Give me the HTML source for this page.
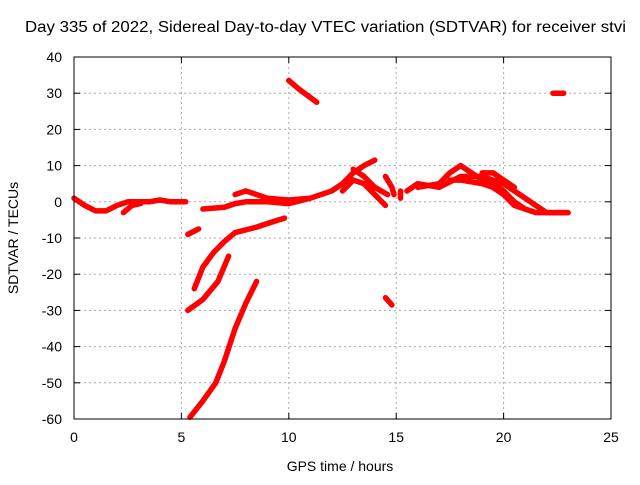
<!DOCTYPE html>
<html><head><meta charset="utf-8"><style>
body{margin:0;background:#fff;}
svg text{font-family:"Liberation Sans",sans-serif;font-size:14px;fill:#000;}
</style></head><body>
<svg id="chart" width="640" height="480" xmlns="http://www.w3.org/2000/svg">
<text x="25" y="32" textLength="601" lengthAdjust="spacingAndGlyphs" style="font-size:15.5px">Day 335 of 2022, Sidereal Day-to-day VTEC variation (SDTVAR) for receiver stvi</text>
<text x="340" y="471" text-anchor="middle">GPS time / hours</text>
<text transform="translate(18,238) rotate(-90)" text-anchor="middle">SDTVAR / TECUs</text>
<g id="grid"></g><g id="series"></g>
<rect x="74" y="57" width="537" height="362" fill="none" stroke="#000"/>
</svg>
<script>
const xTicks=[0,5,10,15,20,25];
const yTicks=[40,30,20,10,0,-10,-20,-30,-40,-50,-60];
const s1=[[0,1],[0.5,-1],[1,-2.5],[1.5,-2.5],[2,-1],[2.5,0],[3,0],[3.5,0],[4,0.5],[4.5,0],[5.2,0]];
const s2=[[2.3,-3],[2.7,-1],[3.1,-0.5]];
const s3=[[5.3,-9],[5.8,-7.5]];
const s4=[[5.3,-30],[6,-27],[6.7,-22],[7.2,-15]];
const s5=[[5.6,-24],[6,-18],[6.5,-14],[7,-11],[7.5,-8.5],[8.5,-7],[9,-6],[9.8,-4.5]];
const s6=[[5.4,-59.5],[6,-55],[6.6,-50],[7,-44],[7.5,-35],[8,-28],[8.5,-22]];
const s7=[[6,-2],[7,-1.5],[7.5,-0.5],[8,0],[9,0],[10,-0.5],[11,1]];
const s8=[[7.5,2],[8,3],[8.5,2],[9,1],[10,0.5],[11,1],[11.5,2],[12,3],[12.5,5],[13,8],[13.5,10],[14,11.5]];
const s9=[[10,33.5],[10.5,31],[11.3,27.5]];
const s10=[[12.5,3],[13,6],[13.5,5],[14,2],[14.5,-1]];
const s11=[[13,9],[13.5,7],[14,4],[14.6,2]];
const s12=[[14.5,-26.5],[14.8,-28.5]];
const s13=[[14.5,7],[14.8,4],[14.9,2]];
const s14=[[15.2,1],[15.2,3]];
const s15=[[15.5,3],[16,5],[17,4],[18,7],[19,7],[20,5],[21,1],[21.5,-1],[22,-3],[23,-3]];
const s16=[[16,4],[17,5],[17.5,8],[18,10],[18.5,8],[19,6],[19.5,5.5],[20,3],[20.5,0],[21,-2],[21.5,-3],[22,-3],[23,-3]];
const s17=[[17.5,6],[18,6],[19,5],[19.5,4],[20,2],[20.5,-1],[21,-2]];
const s18=[[19,8],[19.5,8],[20,6],[20.5,4]];
const s19=[[22.3,30],[22.8,30]];
const allSeries=[s1,s2,s3,s4,s5,s6,s7,s8,s9,s10,s11,s12,s13,s14,s15,s16,s17,s18,s19];
const X=v=>74+(v-0)*(537/25), Y=v=>419-(v+60)*(362/100);
const NS="http://www.w3.org/2000/svg";
const svg=document.getElementById('chart'),g=document.getElementById('grid'),sg=document.getElementById('series');
function mk(t,a,p){const e=document.createElementNS(NS,t);for(const k in a)e.setAttribute(k,a[k]);p.appendChild(e);return e;}
xTicks.forEach(t=>{const x=X(t);
 if(t>0&&t<25){const l=mk('line',{x1:x,x2:x,y1:57,y2:419,stroke:'#aaa','stroke-dasharray':'2,3'},g);}
 mk('line',{x1:x,x2:x,y1:419,y2:413,stroke:'#000'},g);mk('line',{x1:x,x2:x,y1:57,y2:63,stroke:'#000'},g);
 const tx=mk('text',{x:x,y:442,'text-anchor':'middle'},g);tx.textContent=t;
 });
yTicks.forEach(t=>{const y=Y(t);
 if(t>-60&&t<40){const l=mk('line',{x1:74,x2:611,y1:y,y2:y,stroke:'#aaa','stroke-dasharray':'2,3'},g);}
 mk('line',{x1:74,x2:80,y1:y,y2:y,stroke:'#000'},g);mk('line',{x1:605,x2:611,y1:y,y2:y,stroke:'#000'},g);
 const tx=mk('text',{x:62,y:y+5,'text-anchor':'end'},g);tx.textContent=t;
 });
allSeries.forEach(s=>{
 const p=mk('polyline',{points:s.map(d=>X(d[0])+','+Y(d[1])).join(' '),fill:'none',stroke:'#f00','stroke-width':5.5,'stroke-linejoin':'round','stroke-linecap':'round'},sg);
 
 
});
</script>
</body></html>
